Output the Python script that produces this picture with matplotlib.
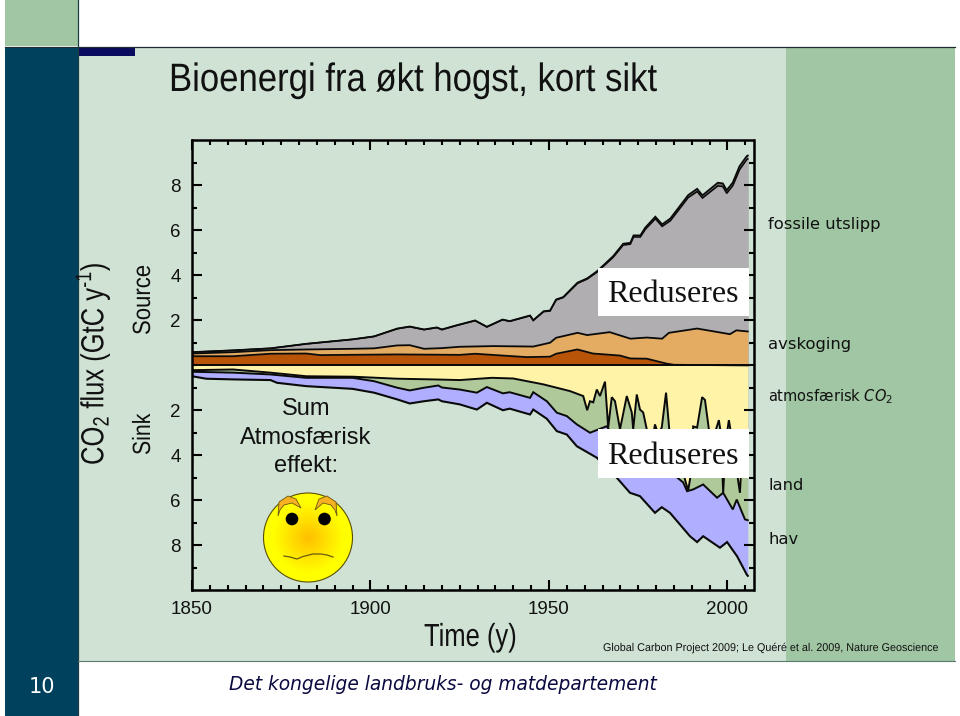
#!/usr/bin/env python3
"""Global carbon budget slide: CO2 sources and sinks 1850-2006."""
import numpy as np
import matplotlib
matplotlib.use('Agg')
import matplotlib.pyplot as plt
from matplotlib.patches import Circle, Polygon, Rectangle
from matplotlib.patheffects import AbstractPathEffect
from matplotlib.transforms import Affine2D

plt.rcParams['font.family'] = ['Liberation Sans', 'DejaVu Sans']
plt.rcParams['mathtext.fontset'] = 'custom'
plt.rcParams['mathtext.rm'] = 'Liberation Sans'
plt.rcParams['mathtext.sf'] = 'DejaVu Sans'
plt.rcParams['mathtext.it'] = 'DejaVu Sans:italic'

# Sources, GtC/y
fossil_years = [1850, 1861.5, 1872, 1882, 1895, 1901, 1907.5, 1911, 1915, 1918.6, 1920, 1924,
                1929.3, 1932.6, 1937, 1939, 1944.7, 1945.6, 1948.5, 1950.3, 1952, 1954, 1958,
                1960.7, 1963.5, 1968, 1970.8, 1972.8, 1973.7, 1975.6, 1977, 1979.8, 1981.7,
                1984, 1989, 1991.5, 1993, 1997.3, 1998.7, 1999.8, 2001.5, 2003.4, 2005.4, 2005.7]
fossil_total = [0.59, 0.67, 0.76, 0.96, 1.16, 1.29, 1.64, 1.73, 1.60, 1.69, 1.60, 1.78,
                2.00, 1.72, 2.04, 1.97, 2.22, 2.01, 2.41, 2.44, 2.93, 3.04, 3.68,
                3.87, 4.19, 4.86, 5.41, 5.45, 5.78, 5.78, 6.13, 6.61, 6.27,
                6.53, 7.57, 7.85, 7.56, 8.12, 8.09, 7.79, 8.13, 8.86, 9.30, 9.33]
fossil_lower = [0.59, 0.67, 0.76, 0.96, 1.16, 1.29, 1.63, 1.72, 1.59, 1.68, 1.59, 1.77,
                1.99, 1.71, 2.03, 1.96, 2.21, 2.00, 2.39, 2.42, 2.91, 3.02, 3.65,
                3.84, 4.15, 4.81, 5.35, 5.39, 5.71, 5.71, 6.05, 6.52, 6.18,
                6.43, 7.46, 7.73, 7.44, 7.98, 7.95, 7.65, 7.99, 8.70, 9.15, 9.18]

orange_years = [1850, 1861.5, 1872, 1882, 1895, 1901, 1907.5, 1911, 1915, 1920, 1925, 1934.3,
                1945.6, 1950.3, 1952, 1958, 1960.7, 1967, 1972.8, 1977.4, 1981.7, 1983.6,
                1991.5, 2000.7, 2002.5, 2005.7]
orange_top = [0.53, 0.59, 0.68, 0.71, 0.74, 0.76, 0.89, 0.90, 0.74, 0.77, 0.83, 0.86,
              0.84, 1.01, 1.23, 1.45, 1.35, 1.48, 1.19, 1.24, 1.19, 1.45,
              1.64, 1.39, 1.56, 1.51]

brown_years = [1850, 1861.5, 1872, 1882, 1885.9, 1907.5, 1925, 1929.3, 1937, 1943.8, 1950.3,
               1952, 1958, 1962.3, 1969.9, 1972.8, 1977.4, 1983, 1985, 2005.7]
brown_top = [0.41, 0.41, 0.52, 0.53, 0.46, 0.49, 0.47, 0.52, 0.44, 0.37, 0.39,
             0.52, 0.71, 0.53, 0.44, 0.31, 0.30, 0.08, 0.03, 0.0]

# Sinks, GtC/y (stacked downwards)
atmos_years = [1850, 1861.5, 1872, 1882, 1895, 1907.5, 1917.5, 1925, 1934, 1940, 1948.4, 1955.9,
               1959.6, 1960.7, 1961.5, 1962.4, 1963.4, 1964.3, 1965.7, 1966.6, 1967.6, 1968.5,
               1969.9, 1971.8, 1973.2, 1973.6, 1974.6, 1975.5, 1976.4, 1977.4, 1978.8, 1979.7,
               1980.6, 1981.6, 1982.8, 1983.7, 1985, 1986.7, 1988.1, 1989, 1990, 1990.4, 1991.5,
               1992.9, 1993.7, 1994.8, 1996, 1996.8, 1997.6, 1998.2, 1998.8, 1999.6, 2000.4,
               2001.5, 2003.5, 2004.3, 2005.7]
atmos = [-0.21, -0.18, -0.32, -0.48, -0.50, -0.59, -0.62, -0.65, -0.55, -0.58, -0.84, -1.14,
         -1.36, -1.99, -1.59, -1.64, -1.07, -1.36, -0.72, -2.76, -1.41, -1.59,
         -2.84, -1.36, -2.09, -2.84, -1.29, -1.96, -2.09, -2.84, -3.50, -2.62,
         -3.06, -2.76, -1.21, -2.84, -3.50, -3.60, -5.07, -5.56, -4.60, -2.71, -2.76,
         -1.41, -1.53, -2.84, -3.70, -2.84, -2.43, -3.07, -5.66, -3.30, -2.43,
         -3.50, -5.66, -3.30, -3.40]

land_years = [1850, 1861.5, 1872, 1882, 1895, 1901, 1907.5, 1911, 1915, 1919, 1920, 1925, 1929.8,
              1932.6, 1937.1, 1939, 1944.7, 1945.6, 1949.4, 1952.2, 1955, 1957.8, 1961.5, 1966.2,
              1969, 1976.4, 1983, 1987.6, 1988.7, 1990.4, 1993.2, 1997.1, 1998.8, 2001.5,
              2002.6, 2004.9, 2005.7]
land = [-0.28, -0.32, -0.40, -0.55, -0.55, -0.70, -0.99, -1.11, -0.99, -0.89, -0.98, -1.07, -1.21,
        -0.96, -1.24, -1.19, -1.44, -1.19, -1.59, -2.10, -2.25, -2.62, -2.99, -2.70,
        -3.40, -4.30, -4.60, -5.20, -5.59, -5.51, -5.29, -5.88, -5.66, -6.40,
        -5.96, -6.84, -6.88]

ocean_years = [1850, 1854, 1861.5, 1872, 1873.8, 1882, 1895, 1901, 1907.5, 1911, 1915, 1919, 1920,
               1925, 1929.8, 1932.6, 1937.1, 1939, 1944.7, 1945.6, 1949.4, 1952.2, 1955, 1957.8,
               1963.4, 1969, 1972.7, 1975.5, 1979.7, 1981.6, 1983.9, 1989.5, 1991.5, 1993.2,
               1997.9, 1999.9, 2002.7, 2005.4, 2005.7]
ocean = [-0.48, -0.59, -0.62, -0.65, -0.77, -0.92, -1.04, -1.21, -1.51, -1.69, -1.59, -1.51, -1.59,
         -1.73, -1.96, -1.66, -1.99, -1.92, -2.18, -1.96, -2.37, -2.92, -3.07, -3.59,
         -4.10, -4.99, -5.66, -5.81, -6.55, -6.30, -6.55, -7.59, -7.85, -7.59,
         -8.10, -7.85, -8.48, -9.29, -9.35]

y_ticks = [-8, -6, -4, -2, 2, 4, 6, 8]
x_ticks = [1850, 1900, 1950, 2000]

W, H = 960, 716
INK = '#111111'
fig = plt.figure(figsize=(9.6, 7.16), dpi=100, facecolor='white')


class Squeeze(AbstractPathEffect):
    """Narrow the glyphs along the text direction, no narrow font is installed."""

    def __init__(self, factor):
        super().__init__()
        self.factor = factor

    def draw_path(self, renderer, gc, tpath, affine, rgbFace=None):
        renderer.draw_path(gc, tpath, Affine2D().scale(self.factor, 1) + affine, rgbFace)


def px_axes(zorder):
    """Full figure axes in image pixel coordinates."""
    a = fig.add_axes([0, 0, 1, 1], zorder=zorder)
    a.set_xlim(0, W)
    a.set_ylim(H, 0)
    a.axis('off')
    return a


# Slide background
bg = px_axes(0)
bg.add_patch(Rectangle((78, 47), 877, 614, fc='#CFE2D4', ec='none'))
bg.add_patch(Rectangle((786, 47), 169, 614, fc='#A0C6A3', ec='none'))
bg.add_patch(Rectangle((5, 47), 73, 669, fc='#00415E', ec='none'))
bg.add_patch(Rectangle((5, 0), 73, 46, fc='#A0C6A3', ec='none'))
bg.add_patch(Rectangle((78, 47), 57, 9, fc='#0A0A5E', ec='none'))
bg.plot([5, 955], [46.5, 46.5], color='#1c2c30', lw=0.9)
bg.plot([78, 78], [0, 716], color='#1c3c44', lw=0.9)
bg.plot([78, 955], [661, 661], color='#5a7a70', lw=0.8)

bg.text(169, 80, 'Bioenergi fra økt hogst, kort sikt', fontsize=28.5, va='center', ha='left',
        color=INK, path_effects=[Squeeze(0.877)])
bg.text(93, 465, 'CO$_{\\mathrm{2}}$ flux (GtC y$^{\\mathrm{\u20101}}$)', fontsize=23,
        rotation=90, ha='center', va='bottom', color=INK, path_effects=[Squeeze(0.80)])
bg.text(143, 335, 'Source', fontsize=18, rotation=90, ha='center', va='bottom', color=INK,
        path_effects=[Squeeze(0.885)])
bg.text(143, 455, 'Sink', fontsize=18, rotation=90, ha='center', va='bottom', color=INK,
        path_effects=[Squeeze(0.85)])
bg.text(424, 638, 'Time (y)', fontsize=23, ha='left', va='center', color=INK,
        path_effects=[Squeeze(0.80)])
bg.text(603, 648, 'Global Carbon Project 2009; Le Quéré et al. 2009, Nature Geoscience',
        fontsize=8.1, ha='left', va='center', color=INK, path_effects=[Squeeze(0.958)])
bg.text(42, 687, '10', fontsize=15, family='DejaVu Sans', ha='center', va='center', color='white')
bg.text(229, 684, 'Det kongelige landbruks- og matdepartement', family='DejaVu Sans',
        style='italic', fontsize=13.4, ha='left', va='center', color='#0A0A40')

for label, ypos in [('fossile utslipp', 225), ('avskoging', 345), ('land', 486), ('hav', 539)]:
    bg.text(768, ypos, label, family='DejaVu Sans', fontsize=11.8, ha='left', va='center', color=INK)
bg.text(768, 397, 'atmosfærisk $\\mathit{CO}_{\\mathsf{2}}$', family='DejaVu Sans', fontsize=10.5,
        ha='left', va='center', color=INK)

# Main chart
ax = fig.add_axes([192 / W, (H - 590) / H, (753.5 - 192) / W, 450 / H], zorder=1)
ax.patch.set_alpha(0)
ax.set_xlim(1850, 2007.3)
ax.set_ylim(-9.98, 10.02)

ax.fill_between(fossil_years, 0, fossil_total, color='#6E6E6E', lw=0)
ax.fill_between(fossil_years, 0, fossil_lower, color='#B0AEB0', lw=0)
ax.fill_between(orange_years, 0, orange_top, color='#E3AC62', lw=0)
ax.fill_between(brown_years, 0, brown_top, color='#B85408', lw=0)
ax.fill_between(ocean_years, 0, ocean, color='#B0AEFF', lw=0)
ax.fill_between(land_years, 0, land, color='#AFC99A', lw=0)
ax.fill_between(atmos_years, 0, atmos, color='#FFF3A8', lw=0)

for xs, ys, lw in [(fossil_years, fossil_total, 1.3), (fossil_years, fossil_lower, 1.1),
                   (orange_years, orange_top, 1.3), (brown_years, brown_top, 1.3),
                   (atmos_years, atmos, 1.4), (land_years, land, 1.4), (ocean_years, ocean, 1.5)]:
    ax.plot(xs, ys, color='#0a0a0a', lw=lw, solid_joinstyle='miter')
ax.axhline(0, color='#0a0a0a', lw=1.4)

ax.set_xticks(x_ticks)
ax.set_xticks(np.arange(1850, 2006, 5), minor=True)
ax.set_yticks(y_ticks)
ax.set_yticklabels([str(abs(v)) for v in y_ticks])
ax.set_yticks(np.arange(-9, 10, 1), minor=True)
ax.tick_params(which='major', direction='in', length=7.5, width=1.5, top=True, right=True,
               labelsize=13.5, pad=8, labelcolor=INK)
ax.tick_params(which='minor', direction='in', length=3.5, width=1.5, top=True, right=True)
for spine in ax.spines.values():
    spine.set_linewidth(1.8)

# White boxes and smiley sit on top of the chart
top = px_axes(2)
for by, bh in [(268, 48), (429, 49)]:
    top.add_patch(Rectangle((598, by), 151, bh, fc='white', ec='none'))
    top.text(673, by + bh / 2 + 3, 'Reduseres', family='Liberation Serif', fontsize=23,
             ha='center', va='center', color=INK)

for i, line in enumerate(['Sum', 'Atmosfærisk', 'effekt:']):
    top.text(306, 409 + i * 28.5, line, fontsize=17, ha='center', va='center', color=INK)

cx, cy, r = 308, 537.5, 44.5
yy, xx = np.mgrid[-1:1:200j, -1:1:200j]
rad = np.clip(np.hypot(xx, yy) * 1.25, 0, 1)
face = np.dstack([np.ones_like(rad), 0.75 + 0.25 * rad, 0 * rad])
img = top.imshow(face, extent=(cx - r, cx + r, cy + r, cy - r), zorder=3, aspect='auto')
outline = Circle((cx, cy), r, fc='none', ec='#5a5000', lw=0.8, zorder=4)
top.add_patch(outline)
img.set_clip_path(outline)
top.set_xlim(0, W)
top.set_ylim(H, 0)

for brow in ([(278, 516), (279, 502), (288, 496), (296, 499), (301, 508), (292, 503), (284, 505), (280, 510)],
             [(337, 516), (336, 502), (327, 496), (319, 499), (315, 510), (323, 503), (331, 505), (335, 510)]):
    top.add_patch(Polygon(brow, closed=True, fc='#F7B022', ec='#6a5a10', lw=0.6, zorder=5))
for ex in (292, 324.5):
    top.add_patch(Circle((ex, 519), 6.3, fc='black', ec='none', zorder=5))
top.plot([284, 290, 297, 303, 313, 321, 327, 333], [556, 557, 559, 556.5, 554, 554, 555, 557],
         color='#6a5a10', lw=0.9, zorder=5)

fig.savefig('out.png', dpi=100)
